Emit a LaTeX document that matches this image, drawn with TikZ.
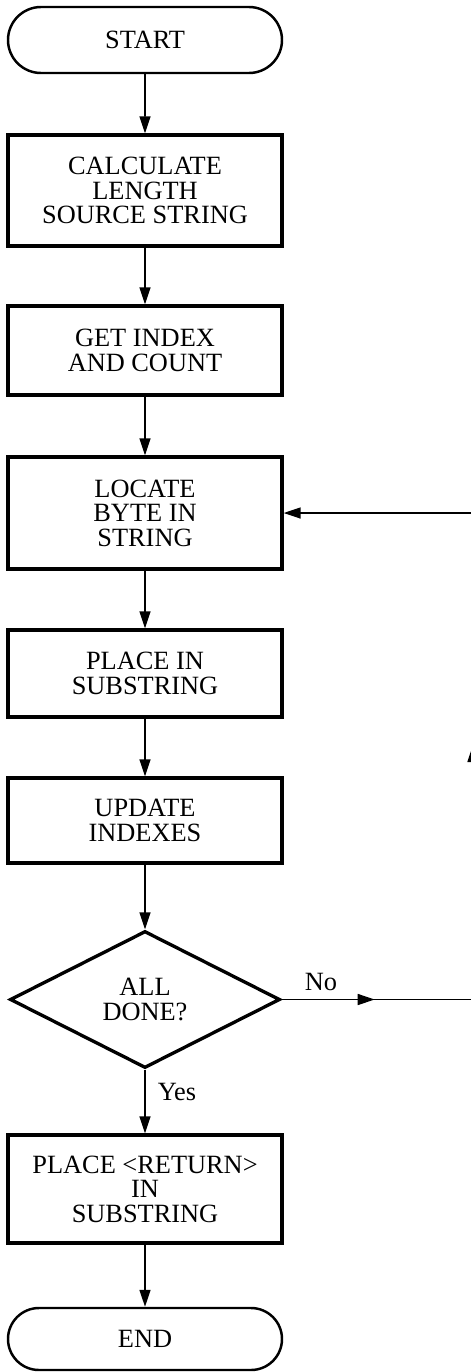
\documentclass[tikz,border=0pt]{standalone}
\usepackage{fontspec}
\setmainfont{Liberation Serif}
\usetikzlibrary{shapes.geometric,shapes.misc,arrows.meta,decorations.markings}

\tikzset{
  every node/.style={font=\fontsize{15}{14}\selectfont, align=center},
  procbox/.style={draw, line width=1.9pt, minimum width=5.48cm, inner sep=0pt},
  termbox/.style={draw, line width=1.4pt, rounded rectangle, minimum width=5.48cm, inner sep=0pt},
  testbox/.style={draw, line width=1.9pt, diamond, minimum width=5.4cm, minimum height=2.74cm, inner sep=0pt},
  flow/.style={line width=0.9pt, -{Triangle[length=0.34cm,width=0.22cm]}},
  midarrow/.style={line width=0.9pt, postaction={decorate},
    decoration={markings, mark=at position #1 with {\arrow{Triangle[length=0.34cm,width=0.22cm]}}}}
}

\begin{document}
\begin{tikzpicture}
\useasboundingbox (0,0) rectangle (9.4,-27.44);
% main column
\node[termbox, minimum height=1.32cm] (start) at (2.9,-0.8) {START};
\node[procbox, minimum height=2.22cm] (calc) at (2.9,-3.81) {CALCULATE\\LENGTH\\SOURCE STRING};
\node[procbox, minimum height=1.78cm] (getidx) at (2.9,-7.01) {GET INDEX\\AND COUNT};
\node[procbox, minimum height=2.24cm] (locate) at (2.9,-10.26) {LOCATE\\BYTE IN\\STRING};
\node[procbox, minimum height=1.74cm] (place) at (2.9,-13.47) {PLACE IN\\SUBSTRING};
\node[procbox, minimum height=1.70cm] (update) at (2.9,-16.41) {UPDATE\\INDEXES};
\node[testbox] (done) at (2.9,-19.99) {ALL\\DONE?};
\node[procbox, minimum height=2.16cm] (putret) at (2.9,-23.78) {PLACE {<}RETURN{>}\\IN\\SUBSTRING};
\node[termbox, minimum height=1.24cm] (finish) at (2.9,-26.78) {END};

\draw[flow] (start) -- (calc);
\draw[flow] (calc) -- (getidx);
\draw[flow] (getidx) -- (locate);
\draw[flow] (locate) -- (place);
\draw[flow] (place) -- (update);
\draw[flow] (update) -- (done);
\draw[flow] (done) -- (putret);
\draw[flow] (putret) -- (finish);

% loop back
\coordinate (noturn) at (9.46,-19.99);
\coordinate (upturn) at (9.46,-10.26);
\draw[midarrow=1.86cm] (done.east) -- (noturn);
\draw[midarrow=5.09cm] (noturn) -- (upturn);
\draw[flow] (upturn) -- (locate.east);

\node (nolbl) at (6.42,-19.64) {No};
\node (yeslbl) at (3.54,-21.84) {Yes};
\end{tikzpicture}
\end{document}
